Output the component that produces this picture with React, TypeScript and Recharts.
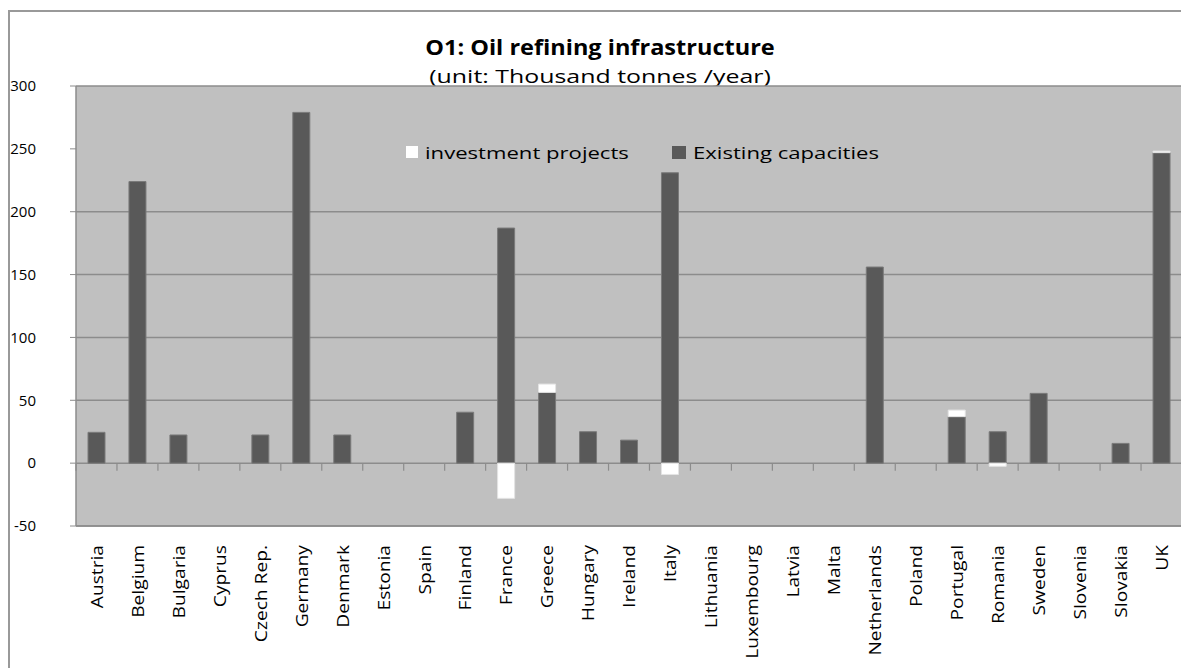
import React from "react";
import {
  BarChart,
  Bar,
  XAxis,
  YAxis,
  CartesianGrid,
  Legend,
  ReferenceLine,
} from "recharts";

const categories = [
  "Austria", "Belgium", "Bulgaria", "Cyprus", "Czech Rep.", "Germany", "Denmark",
  "Estonia", "Spain", "Finland", "France", "Greece", "Hungary", "Ireland", "Italy",
  "Lithuania", "Luxembourg", "Latvia", "Malta", "Netherlands", "Poland", "Portugal",
  "Romania", "Sweden", "Slovenia", "Slovakia", "UK",
];

const existingCapacities = [
  24.5, 224, 22.4, 0, 22.4, 279, 22.4, 0, 0, 40.5, 187, 56.3, 25, 18.3, 231,
  0, 0, 0, 0, 156, 0, 37, 25, 55.5, 0, 15.7, 247,
];

const investmentProjects = [
  0, 0, 0, 0, 0, 0, 0, 0, 0, 0, -28, 6.6, 0, 0, -9,
  0, 0, 0, 0, 0, 0, 5.2, -2.5, 0, 0, 0, 1.2,
];

const yTicks = [-50, 0, 50, 100, 150, 200, 250, 300];
const gridValues = [-50, 0, 50, 100, 150, 200, 300];

const data = categories.map((country, i) => ({
  country,
  existing: existingCapacities[i],
  investment: investmentProjects[i],
}));

const FONT = "'Open Sans', 'DejaVu Sans', sans-serif";
const GRID = "#8c8c8c";

function XTick(props: any) {
  const { x, y, payload } = props;
  return (
    <g transform={`translate(${x},${y})`}>
      <text
        transform="rotate(-90) scale(1.2,1)"
        textAnchor="end"
        dominantBaseline="central"
        fontSize={16}
        fontFamily={FONT}
        fill="#000"
      >
        {payload.value}
      </text>
    </g>
  );
}

function LegendContent(props: any) {
  const items = [...(props.payload || [])].sort((a: any, b: any) =>
    a.dataKey === "investment" ? -1 : b.dataKey === "investment" ? 1 : 0
  );
  return (
    <div style={{ display: "flex", alignItems: "center", fontFamily: FONT, fontSize: 17, height: 24 }}>
      {items.map((it: any, idx: number) => (
        <div
          key={it.dataKey}
          style={{
            display: "flex",
            alignItems: "center",
            width: idx === 0 ? 266 : 240,
            whiteSpace: "nowrap",
          }}
        >
          <span
            style={{
              display: "inline-block",
              width: idx === 0 ? 12 : 14,
              height: idx === 0 ? 12 : 13,
              background: it.dataKey === "investment" ? "#ffffff" : "#595959",
              marginRight: 7,
              flex: "none",
            }}
          />
          <span
            style={{
              display: "inline-block",
              color: "#000",
              transform: "scaleX(1.3)",
              transformOrigin: "left center",
            }}
          >
            {it.value}
          </span>
        </div>
      ))}
    </div>
  );
}

export default function App() {
  return (
    <div
      style={{
        position: "relative",
        width: 1177,
        height: 656,
        marginTop: 2,
        borderLeft: "2px solid #999",
        borderTop: "2px solid #999",
        background: "#fff",
      }}
    >
      <style>{`html, body { overflow: hidden; }`}</style>
      <div
        style={{
          position: "absolute",
          left: 0,
          width: 1180,
          top: 22,
          textAlign: "center",
          fontFamily: FONT,
          fontWeight: 700,
          fontSize: 21,
          lineHeight: "26px",
          color: "#000",
          transform: "scaleX(1.12)",
          transformOrigin: "590px center",
        }}
      >
        O1: Oil refining infrastructure
      </div>
      <div
        style={{
          position: "absolute",
          left: 0,
          width: 1180,
          top: 52,
          textAlign: "center",
          fontFamily: FONT,
          fontSize: 19,
          lineHeight: "24px",
          color: "#000",
          transform: "scaleX(1.31)",
          transformOrigin: "590px center",
        }}
      >
        (unit: Thousand tonnes /year)
      </div>
      <BarChart
        width={1177}
        height={656}
        data={data}
        stackOffset="sign"
        barSize={17}
        margin={{ top: 74, right: 5, bottom: 22, left: 0 }}
      >
        <CartesianGrid
          fill="#c0c0c0"
          fillOpacity={1}
          stroke={GRID}
          strokeWidth={1.5}
          vertical={false}
          horizontalValues={gridValues}
        />
        <XAxis
          dataKey="country"
          interval={0}
          height={120}
          tick={<XTick />}
          tickLine={false}
          tickSize={0}
          tickMargin={19}
          axisLine={{ stroke: GRID, strokeWidth: 1.5 }}
        />
        <YAxis
          domain={[-50, 300]}
          ticks={yTicks}
          interval={0}
          width={66}
          tickSize={6}
          tickMargin={34}
          axisLine={{ stroke: GRID, strokeWidth: 1.5 }}
          tickLine={{ stroke: GRID }}
          tick={{ fontSize: 15, fontFamily: FONT, fill: "#000" }}
          allowDataOverflow
        />
        <YAxis
          yAxisId="r"
          orientation="right"
          domain={[-50, 300]}
          width={0}
          tick={false}
          tickLine={false}
          axisLine={{ stroke: GRID, strokeWidth: 1.5 }}
        />
        {categories.map((c) => (
          <ReferenceLine
            key={c}
            position="start"
            segment={[
              { x: c, y: 0 },
              { x: c, y: -6 },
            ]}
            stroke={GRID}
            strokeWidth={1.2}
          />
        ))}
        <ReferenceLine
          position="end"
          segment={[
            { x: categories[categories.length - 1], y: 0 },
            { x: categories[categories.length - 1], y: -6 },
          ]}
          stroke={GRID}
          strokeWidth={1.2}
        />
        <Bar
          dataKey="existing"
          name="Existing capacities"
          stackId="s"
          fill="#595959"
          stroke="#7a7a7a"
          strokeWidth={1}
          isAnimationActive={false}
        />
        <Bar
          dataKey="investment"
          name="investment projects"
          stackId="s"
          fill="#ffffff"
          stroke="#e4e4e4"
          strokeWidth={1}
          isAnimationActive={false}
        />
        <Legend
          layout="horizontal"
          verticalAlign="middle"
          align="center"
          content={<LegendContent />}
          wrapperStyle={{ top: 128, left: 396, width: 520, height: 24 }}
        />
      </BarChart>
    </div>
  );
}
